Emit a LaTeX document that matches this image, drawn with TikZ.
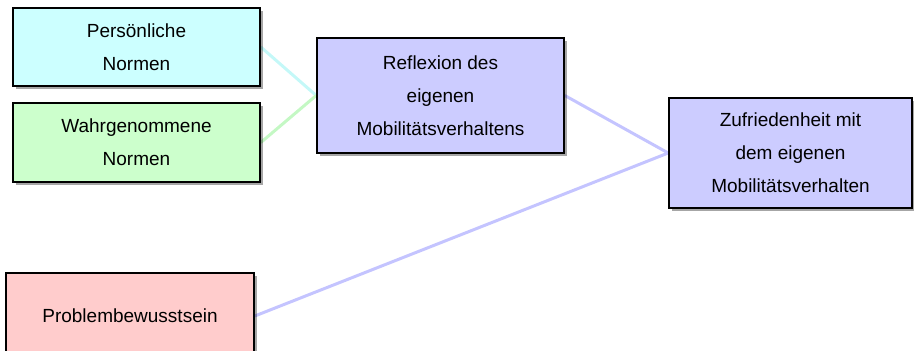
\documentclass[tikz,border=0pt]{standalone}
\usepackage{fontspec}
\setmainfont{Liberation Sans}
\usetikzlibrary{shadows,backgrounds}
\definecolor{cyanfill}{HTML}{CCFFFF}
\definecolor{greenfill}{HTML}{CCFFCC}
\definecolor{bluefill}{HTML}{CCCCFF}
\definecolor{redfill}{HTML}{FFCCCC}
\definecolor{cyanlink}{HTML}{C4F8F8}
\definecolor{greenlink}{HTML}{C4F8C4}
\definecolor{bluelink}{HTML}{C4C4FF}
\begin{document}
\begin{tikzpicture}[x=1pt,y=-1pt,
  box/.style={draw=black, line width=1.6pt, rectangle, inner sep=0pt,
    align=center, font=\fontsize{19}{33}\selectfont,
    drop shadow={shadow xshift=3pt, shadow yshift=-3pt, fill=black, opacity=0.35}},
  link/.style={line width=3pt}]
\useasboundingbox (0,0) rectangle (914,351);

% factor boxes
\node[box, fill=cyanfill, minimum width=247pt, minimum height=78pt] (pers) at (136.5,47) {Persönliche\\Normen};
\node[box, fill=greenfill, minimum width=247pt, minimum height=79pt] (wahr) at (136.5,142.5) {Wahrgenommene\\Normen};
\node[box, fill=bluefill, minimum width=247pt, minimum height=115pt] (refl) at (440.5,95.5) {Reflexion des\\eigenen\\Mobilitätsverhaltens};
\node[box, fill=bluefill, minimum width=243pt, minimum height=110pt] (zufr) at (790.5,153) {\raisebox{-4pt}{\parbox{230pt}{\centering Zufriedenheit mit\\dem eigenen\\Mobilitätsverhalten}}};
\node[box, fill=redfill, minimum width=248pt, minimum height=86pt] (prob) at (130,316) {Problembewusstsein};

% influence links
\begin{scope}[on background layer]
\draw[link, draw=cyanlink] (pers.east) -- (refl.west);
\draw[link, draw=greenlink] (wahr.east) -- (refl.west);
\draw[link, draw=bluelink] (refl.east) -- (zufr.west);
\draw[link, draw=bluelink] (prob.east) -- (zufr.west);
\end{scope}
\end{tikzpicture}
\end{document}
